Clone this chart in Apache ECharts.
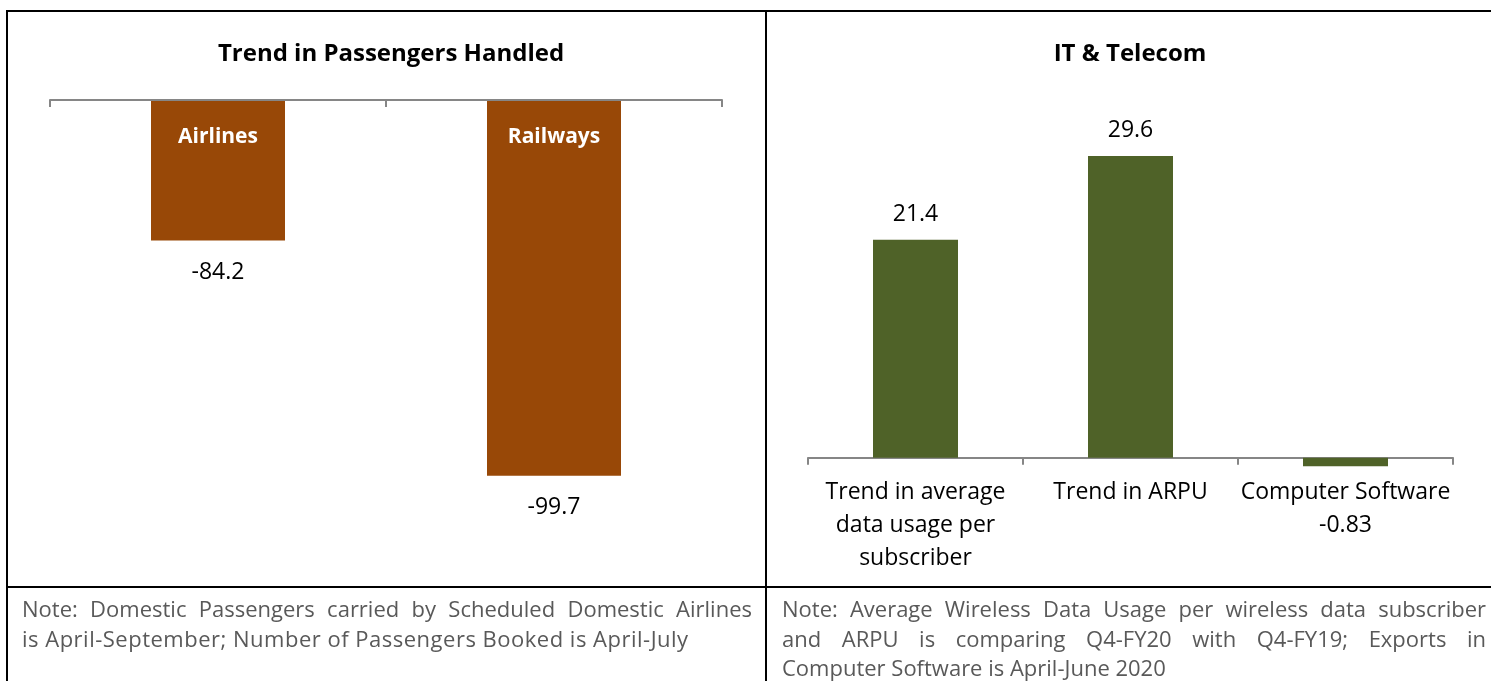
<!DOCTYPE html>
<html>
<head>
<meta charset="utf-8">
<script src="https://cdn.jsdelivr.net/npm/echarts@6/dist/echarts.min.js"></script>
<style>
  html, body { margin: 0; padding: 0; background: #fff; }
  body { width: 1491px; height: 681px; position: relative; overflow: hidden; font-family: 'Open Sans', sans-serif; }
  #chart { position: absolute; left: 0; top: 0; width: 1491px; height: 681px; }
  .rule { position: absolute; background: #000; }
  .note { position: absolute; color: #595959; font-size: 22px; line-height: 29.5px; }
  .note div { text-align: justify; text-align-last: justify; white-space: nowrap; }
  .note div.last { text-align-last: left; }
</style>
</head>
<body>
<div id="chart"></div>
<div class="rule" style="left:6px;top:10px;width:1500px;height:2px"></div>
<div class="rule" style="left:6px;top:10px;width:2px;height:700px"></div>
<div class="rule" style="left:765px;top:10px;width:2px;height:700px"></div>
<div class="rule" style="left:6px;top:586px;width:1500px;height:2px"></div>
<div class="note" style="left:22px;top:594px;width:730px">
  <div>Note: Domestic Passengers carried by Scheduled Domestic Airlines</div>
  <div class="last" style="letter-spacing:0.5px">is April-September; Number of Passengers Booked is April-July</div>
</div>
<div class="note" style="left:782px;top:594px;width:704px">
  <div>Note: Average Wireless Data Usage per wireless data subscriber</div>
  <div>and ARPU is comparing Q4-FY20 with Q4-FY19; Exports in</div>
  <div class="last">Computer Software is April-June 2020</div>
</div>
<script>
// left panel
const transportCategories = ['Airlines', 'Railways'];
const airlinesValues = [-84.2, '-'];
const railwaysValues = ['-', -99.7];

// right panel
const telecomCategories = ['Trend in average\ndata usage per\nsubscriber', 'Trend in ARPU', 'Computer Software'];
const telecomValues = [21.4, 29.6, -0.83];

const brown = '#984807';
const green = '#4F6228';
const axisGrey = '#868686';
const font = 'Open Sans';

const chart = echarts.init(document.getElementById('chart'));

const valueLabel = {
  show: true,
  position: 'bottom',
  distance: 20,
  fontSize: 23,
  color: '#000',
  fontFamily: font,
  formatter: (p) => p.value
};

const option = {
  animation: false,
  textStyle: { fontFamily: font },
  title: [
    {
      text: 'Trend in Passengers Handled',
      left: 386, top: 37, textAlign: 'center',
      textStyle: { fontSize: 24, fontWeight: 'bold', color: '#000', fontFamily: font }
    },
    {
      text: 'IT & Telecom',
      left: 1125, top: 37, textAlign: 'center',
      textStyle: { fontSize: 24, fontWeight: 'bold', color: '#000', fontFamily: font }
    }
  ],
  grid: [
    { left: 50, width: 672, top: 100, height: 377 },
    { left: 808, width: 645, top: 101, height: 367 }
  ],
  xAxis: [
    {
      gridIndex: 0,
      type: 'category',
      position: 'top',
      data: transportCategories,
      axisLine: { onZero: false, lineStyle: { color: axisGrey, width: 2 } },
      axisTick: { show: true, inside: true, length: 7, lineStyle: { color: axisGrey, width: 2 } },
      axisLabel: { inside: true, margin: 27, fontSize: 21, fontWeight: 'bold', color: '#fff', fontFamily: font },
      z: 10
    },
    {
      gridIndex: 1,
      type: 'category',
      data: telecomCategories,
      axisLine: { lineStyle: { color: axisGrey, width: 2 } },
      axisTick: { show: true, length: 7, lineStyle: { color: axisGrey, width: 2 } },
      axisLabel: { margin: 8, fontSize: 23, lineHeight: 33, color: '#000', fontFamily: font, interval: 0 }
    }
  ],
  yAxis: [
    { gridIndex: 0, type: 'value', min: -226, max: 0, show: false },
    { gridIndex: 0, type: 'value', min: -100, max: 0, show: false },
    { gridIndex: 1, type: 'value', min: -1, max: 35, show: false }
  ],
  series: [
    {
      type: 'bar', xAxisIndex: 0, yAxisIndex: 0,
      data: airlinesValues, barWidth: 134, barGap: '-100%',
      itemStyle: { color: brown },
      label: valueLabel
    },
    {
      type: 'bar', xAxisIndex: 0, yAxisIndex: 1,
      data: railwaysValues, barWidth: 134, barGap: '-100%',
      itemStyle: { color: brown },
      label: valueLabel
    },
    {
      type: 'bar', xAxisIndex: 1, yAxisIndex: 2,
      barWidth: 85,
      itemStyle: { color: green },
      label: { show: true, position: 'top', distance: 14, fontSize: 23, color: '#000', fontFamily: font },
      data: telecomValues.map((v) =>
        v < 0 ? { value: v, label: { position: 'bottom', distance: 48 } } : v
      )
    }
  ]
};

chart.setOption(option);
</script>
</body>
</html>
